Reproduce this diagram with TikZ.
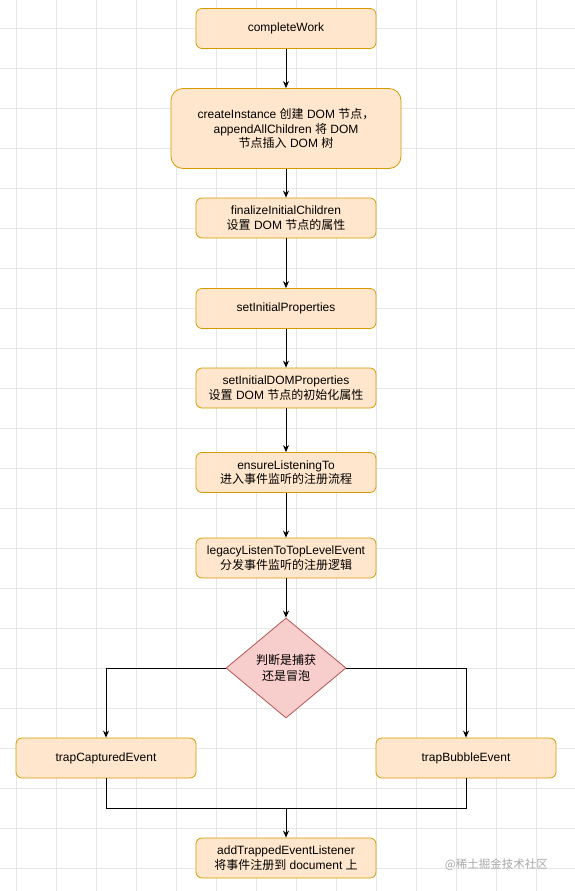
\documentclass[tikz,border=0pt]{standalone}
\usepackage{fontspec}
\setmainfont{Liberation Sans}
\newfontfamily\cjk{Noto Sans CJK SC}
\newcommand\zh[1]{{\cjk #1}}
\usetikzlibrary{shapes.geometric,arrows.meta}
\definecolor{boxfill}{HTML}{FFE6CC}
\definecolor{boxline}{HTML}{D79B00}
\definecolor{dfill}{HTML}{F8CECC}
\definecolor{dline}{HTML}{B85450}
\definecolor{gridc}{HTML}{E6E6E6}
\definecolor{wmc}{HTML}{A8A8A8}
\begin{document}
\begin{tikzpicture}[x=1pt,y=-1pt,
  box/.style={draw=boxline, fill=boxfill, rounded corners=6pt, minimum width=180pt,
    minimum height=40pt, inner sep=0pt, align=center,
    font=\fontsize{12}{14.5}\selectfont, line width=0.8pt},
  dec/.style={draw=dline, fill=dfill, shape=diamond, minimum width=120pt,
    minimum height=100pt, inner sep=0pt, align=center,
    font=\fontsize{12}{16}\selectfont, line width=0.8pt},
  arr/.style={-{Stealth[length=7pt,width=6pt]}, line width=1pt},
  ln/.style={line width=1pt}]
\useasboundingbox (0,0) rectangle (575,891);
\fill[white] (0,0) rectangle (575,891);
\foreach \x in {16.3,56.3,...,575} \draw[gridc, line width=0.8pt] (\x,0) -- (\x,891);
\foreach \y in {28.3,68.3,...,891} \draw[gridc, line width=0.8pt] (0,\y) -- (575,\y);

\node[box] (n1) at (286,28.5) {completeWork};
\node[box, minimum width=230pt, minimum height=80pt, rounded corners=12pt] (n2) at (286,128.5)
  {createInstance \zh{创建} DOM \zh{节点，}\\ appendAllChildren \zh{将} DOM\\ \zh{节点插入} DOM \zh{树}};
\node[box] (n3) at (286,218) {finalizeInitialChildren\\ \zh{设置} DOM \zh{节点的属性}};
\node[box] (n4) at (286,308.5) {setInitialProperties};
\node[box] (n5) at (286,388) {setInitialDOMProperties\\ \zh{设置} DOM \zh{节点的初始化属性}};
\node[box] (n6) at (286,472.5) {ensureListeningTo\\ \zh{进入事件监听的注册流程}};
\node[box] (n7) at (286,558) {legacyListenToTopLevelEvent\\ \zh{分发事件监听的注册逻辑}};
\node[dec] (d) at (286,668) {\zh{判断是捕获}\\ \zh{还是冒泡}};
\node[box] (n8) at (106,758) {trapCapturedEvent};
\node[box] (n9) at (466,758) {trapBubbleEvent};
\node[box] (n10) at (286,858) {addTrappedEventListener\\ \zh{将事件注册到} document \zh{上}};
\coordinate (m) at (286,808);

\draw[arr] (n1) -- (n2);
\draw[arr] (n2) -- (n3);
\draw[arr] (n3) -- (n4);
\draw[arr] (n4) -- (n5);
\draw[arr] (n5) -- (n6);
\draw[arr] (n6) -- (n7);
\draw[arr] (n7) -- (d.north);
\draw[arr] (d.west) -| (n8.north);
\draw[arr] (d.east) -| (n9.north);
\draw[ln] (n8.south) -- (n8.south |- m) -- (n9.south |- m) -- (n9.south);
\draw[arr] (m) -- (n10.north);

\node[font=\fontsize{11.5}{13}\selectfont, text=wmc, anchor=east, inner sep=0pt] (wm) at (548,865) {\cjk @稀土掘金技术社区};
\end{tikzpicture}
\end{document}
